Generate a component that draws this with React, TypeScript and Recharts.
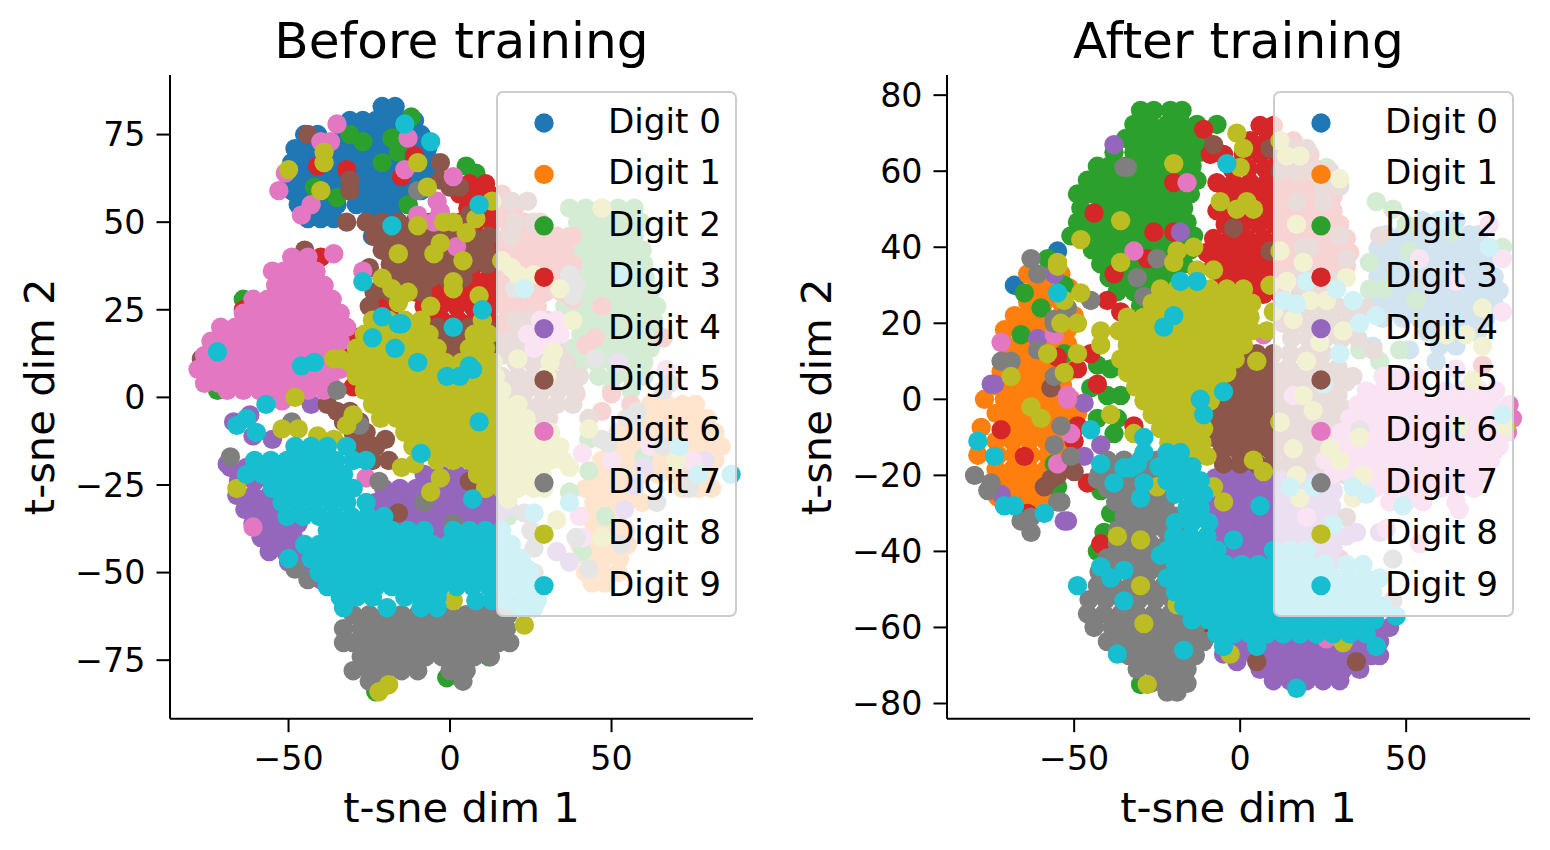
import { ScatterChart, Scatter, XAxis, YAxis } from "recharts";

const digits = ["Digit 0", "Digit 1", "Digit 2", "Digit 3", "Digit 4", "Digit 5", "Digit 6", "Digit 7", "Digit 8", "Digit 9"];
const colors = ["#1f77b4", "#ff7f0e", "#2ca02c", "#d62728", "#9467bd", "#8c564b", "#e377c2", "#7f7f7f", "#bcbd22", "#17becf"];

const beforeXTicks = [-50, 0, 50];
const beforeYTicks = [-75, -50, -25, 0, 25, 50, 75];
const afterXTicks = [-50, 0, 50];
const afterYTicks = [-80, -60, -40, -20, 0, 20, 40, 60, 80];

// every row is [y, x, x, x...]
const before0 = [
  [83,-21,-17],[79,-31,-27,-23,-19,-15,-11],[75,-45,-41,-33,-29,-25,-21,-17,-13,-9],[71,-48,-44,-40,-36,-31,-27,-23,-19,-15,-11,-7],
  [67,-49,-45,-41,-37,-33,-29,-25,-21,-17,-13,-9,-5],[63,-50,-46,-42,-38,-34,-30,-26,-22,-18,-14,-10,-6],[59,-49,-45,-41,-37,-33,-29,-25,-21,-17,-13,-9],
  [55,-47,-43,-39,-35,-29,-25,-21,-17,-13],[51,-44,-40,-36,-25,-21,-17],[46,-24],
];
const before1 = [
  [-2,62,67,72,76],[-6,54.5,59.5,64.5,69.5,74.5,79.5],[-10,52,57,62,67,72,77,82],[-14,49.5,54.5,59.5,64.5,69.5,74.5,79.5,84],[-18,47,52,57,62,67,72,77,82],
  [-22,44.5,49.5,54.5,59.5,64.5,69.5,74.5,79.5],[-26,42,47,52,57,72,77,81],[-30,44.5,49.5,54.5,59.5],[-34,42,47,52],[-38,44.5,49.5,54.5],[-42,40,45,50,55],[-46,42.5,47.5,52.5],[-50,42,47,52],[-53,44,48],
];
const before2 = [
  [54,37,42,47,52,57],[50,39.5,44.5,49.5,54.5,59],[46,37,42,47,52,57],[42,39.5,44.5,49.5,54.5,59.5],[38,38,43,48,53,58,60],[34,40.5,45.5,50.5,55.5,60.5],[30,38,43,48,53,58,62],
  [26,35.5,40.5,45.5,50.5,55.5,60.5,64],[22,38,43,48,53,58,63],[18,40.5,45.5,50.5,55.5,60.5,64],[14,38,43,48,53,58,62],[10,40.5,45.5,50.5,55.5,60],[6,46,51,56,60],[2,50,56],
  [80,-12],[75,-31],[73,-27],[74,-18],[67,-21],[70,-16],[60,-42],[57,-35],[55,-13],[66,5],[64,8],[28,-64],[2,-72],[-80,-1],[-74,12],[-84,-23],
  [-12,43],[-17,60],[-25,23],[-21,43],[-34,48],[-44,41],[-27,37],[-34,18],
];
const before3 = [
  [61,6,11],[58,3,8,12,16],[54,5.5,10.5,15.5,20],[50,3,8,13,18,23,28],[46,8,13,18,23,28,33,38],[42,10.5,15.5,20.5,25.5,30.5,35.5],[38,3,8,13,18,23,28,33,38],
  [34,-8,-3,2,7,12,17,22,27,32,37],[30,-10.5,-5.5,-0.5,4.5,9.5,14.5,19.5,24.5,29.5,34.5],[26,-22,-18,-8,-3,2,7,12,17,22,27],[22,-7.5,-2.5,2.5,7.5,12.5,17.5,22.5],[18,5,10,15,20],
  [65,-32],[66,-41],[69,-11],[63,-15],[40,-40],[17,-29],[13,-30],[3,-30],[25,-64],
  [26,47],[28,38],[15,42],[17,45],[17,66],[10,36],[1,50],[1,39],[-2,56],[-4,47],
];
const before4 = [
  [-7,-67],[-5,-62],[-11,-61],[-12,-55],[-2,-43],[4,-39],[4,-45],[-19,-69],[-20,-68,-63,-58],[-24,-65.5,-60.5,-55.5],[-28,-66,-61,-56,-52],[-32,-63.5,-58.5,-53.5],
  [-36,-61,-56,-51,-47],[-40,-58.5,-53.5,-48.5],[-44,-56,-51,-46,-41],[-47,-50,-45],[-52,-40],
  [-22,-8,-3,2,7,12],[-26,-20.5,-15.5,-10.5,-5.5,-0.5,4.5,9.5,14.5],[-30,-23,-18,-13,-8,-3,2,7,12,15],[-34,-25.5,-20.5,-15.5,-10.5,-5.5,-0.5,4.5,9.5,14.5],[-38,-23,-18,-13,-8,-3,2,7,12],
  [-18,79],[10,52],[-44,33],[-47,37],[-31,18],[-32,54],[-25,57],[-15,70],[-20,60],
];
const before5 = [
  [50,-26,-21,-16,-11,-6],[46,-23.5,-18.5,-13.5,-8.5,-3.5,1.5,6.5],[42,-21,-16,-11,-6,-1,4,9],[38,-18.5,-13.5,-8.5,-3.5,1.5,6.5,11.5],[34,-21,-16,-11,-6,-1,4],[30,-23.5,-18.5,-13.5,-8.5],
  [67,-3],[60,0],[60,3],[62,-3],[50,-32],[62,-31],[59,-31],[75,-44],[42,-45],[37,-25],[26,-25],[46,12],[42,11],[52,6],
  [20,-4,1,6,11],[16,-1.5,3.5,8.5,13.5,18],[12,-4,1,6,11,16],
  [-2,-38],[-4,-35,-31],[-7,-33,-28],[-10,-30,-26],[-14,-27,-23],[-18,-24,-19],[-12,-20],[-33,-16],[-24,6],[11,-77],
  [56,19,24],[50,20,26],[46,19],[22,20,25,30],[18,22,27,32],[14,18,23,28,33],[10,20.5,25.5,30.5,35.5],[6,16,21,26,31,36,40],[2,18.5,23.5,28.5,33.5,38.5],[-2,18,23,28,33,38],[-6,20.5,25.5,30.5,43],[-10,20,26,31],
];
const before6 = [
  [40,-49,-44],[36,-55,-51.5,-46.5,-41.5],[32,-54,-49,-44,-39],[28,-61,-56.5,-51.5,-46.5,-41.5,-36.5],[24,-64,-59,-54,-49,-44,-39,-34],[20,-71,-66.5,-61.5,-56.5,-51.5,-46.5,-41.5,-36.5,-32],
  [16,-74,-69,-64,-59,-54,-49,-44,-39,-34],[12,-76,-71.5,-66.5,-61.5,-56.5,-51.5,-46.5,-41.5,-36.5],[8,-78,-74,-69,-64,-59,-54,-49,-44,-39,-36],[4,-76,-71.5,-66.5,-61.5,-56.5,-51.5,-46.5,-41.5,-37],[2,-69,-64,-59,-54,-49,-44,-39],
  [78,-35],[73,-40],[73,-37],[64,-51],[59,-53],[55,-43],[52,-46],[74,-13],[65,-14],[63,1],[56,-4],[53,-3],[52,-10],[50,-5],[43,2],[41,-36],[36,-27],[8,-34],[-1,-52],[-37,-61],[-23,-26],
  [22,28,33],[18,24,28,34],[14,26,31],[8,67],[-16,41],[-18,50],[-18,75],[-14,62],[-34,40],[-40,41],
];
const before7 = [
  [-62,-30,-25,-20,-15,-10,-5,0,5,10,15,18],[-66,-33,-27.5,-22.5,-17.5,-12.5,-7.5,-2.5,2.5,7.5,12.5,17.5],[-70,-33,-30,-25,-20,-15,-10,-5,0,5,10,15,18.5],[-74,-27.5,-22.5,-17.5,-12.5,-7.5,-2.5,2.5,7.5,12.5],
  [-78,-30,-25,-20,-15,-10,0,5],[-81,-25,-20,4],
  [-49,-48],[-52,-44],[-17,-68],[-24,-22],[-30,-8],[-36,1],[2,-35],[-7,-49],[-8,-28],[59,-10],[-15,-39],
  [35,37],[32,39],[29,38],[31,20],[-4,58],[-40,39],[-33,23],[-38,25],[-43,26],[-50,26],[-49,43],[-42,53],[-30,64],[-26,74],[-13,49],[-12,47],[-6,55],[4,68],[2,66],[-14,66],[-23,75],[11,45],
];
const before8 = [
  [22,-24,-19,-14,-9,10],[18,-26.5,-21.5,-16.5,-11.5,-6.5,7.5],[14,-29,-24,-19,-14,-9,-4,6,11],[10,-31,-26.5,-21.5,-16.5,-11.5,-6.5,-1.5,3.5,8.5,13.5],[6,-29,-24,-19,-14,-9,-4,1,6,11,14],
  [2,-26.5,-21.5,-16.5,-11.5,-6.5,-1.5,3.5,8.5,13.5,16],[-2,-24,-19,-14,-9,-4,1,6,11,16,21],[-6,-21.5,-16.5,-11.5,-6.5,-1.5,3.5,8.5,13.5,18.5,23.5],[-10,-14,-9,-4,1,6,11,16,21,26,31],[-14,-11.5,-6.5,-1.5,3.5,8.5,13.5,18.5,23.5,28.5,33.5],
  [-18,-4,1,6,11,16,21,26,31,35],[-22,8.5,13.5,18.5,23.5,28.5],[-26,11,16,21,26],
  [70,-39],[67,-39],[65,-50],[59,-40],[67,-10],[60,-7],[49,-10],[50,1],[50,-2],[51,8],[47,5],[44,-3],[41,-5],[39,4],[41,-16],[33,1],[31,1],[29,9],[26,-6],[34,-21],[31,-18],[30,-13],[27,-16],[56,13],[18,12],[11,-36],[11,-34],
  [-26,-66],[-9,-52],[-9,-47],[0,-48],[-11,-41],[-12,-36],[-8,-32],[-5,-30],[-27,-6],[-23,-3],[-20,-15],[-19,-11],[-58,1],[-84,-22],[-82,-19],[-65,23],
  [54,47],[39,16],[37,19],[35,21],[35,26],[31,34],[22,38],[13,32],[10,31],[6,30],[11,21],[-9,43],[-14,34],[-20,37],[-24,28],[-26,29],[-29,18],[-35,33],[-40,47],[-18,70],[-22,77],
];
const before9 = [
  [-8,-66],[-6,-63],[-10,-60],[-2,-57],[-14,-48,-43,-38,-32],[-18,-60.5,-55.5,-50.5,-45.5,-40.5,-35.5,-30,-26],[-22,-63,-58,-53,-48,-43,-38,-33],[-26,-55,-50,-45,-40,-35,-30],[-30,-52,-47,-42,-37,-32,-26],
  [-34,-50.5,-45.5,-40.5,-35.5,-30.5,-25.5,-20.5],[-38,-38,-33,-28,-23,-18,-13,-8,1,6,11,16],[-42,-45,-40.5,-35.5,-30.5,-25.5,-20.5,-15.5,-10.5,-5.5,-0.5,4.5,9.5,14.5,19],[-46,-50,-43,-38,-33,-28,-23,-18,-13,-8,-3,2,7,12,17,22],
  [-50,-40.5,-35.5,-30.5,-25.5,-20.5,-15.5,-10.5,-5.5,-0.5,4.5,9.5,14.5,19.5,24.5],[-54,-38,-33,-28,-23,-18,-13,-8,-3,2,7,12,17,22,27],[-57,-34,-29,-24,-14,-9,-4],[-58,8,13,18,23,27],[-60,-33,-19.5,-9,-4,22,26],
  [13,-72],[78,-14],[73,-6],[49,-18],[55,9],[33,-27],[23,-21],[17,-24],[21,-15],[21,-16],[14,-17],[10,-10],[20,1],[25,10],[9,-46],[10,-42],[6,-1],[6,3],[9,6],[8,7],[-7,9],[-16,-9],[-29,7],
  [31,23],[35,54],[-14,71],[-22,87],[-22,77],[-30,37],[-33,26],[-49,24],
];

const after0 = [
  [47,55,60,65],[43.3,44,49,54,59,64,69,72],[39.6,41.5,46.5,51.5,56.5,61.5,66.5,71.5,75],[36,39,44,49,54,59,64,69,74],[32.3,41.5,46.5,51.5,56.5,61.5,66.5,71.5,76.5],[28.6,39,44,49,54,59,64,69,74,78],
  [25,41.5,46.5,51.5,56.5,61.5,66.5,71.5,76.5],[21.3,43,49,54,59,64,69,74],[17.6,56.5,61.5,66.5,71.5],[14,40,60,65],[13,51],[10,59],[-24,28],[30,-68],[39,-55],
];
const after1 = [
  [33,-64,-59,-54],[29.3,-61.5,-56.5,-51.5],[25.6,-64,-59,-54],[22,-68,-64,-59,-54,-50],[18.3,-71,-66.5,-61.5,-56.5,-52],[14.6,-71,-66,-61,-56,-52],[11,-68.5,-63.5,-58.5,-53.5],[7.3,-72,-66,-61,-56,-52],
  [3.6,-73.5,-68.5,-63.5,-58.5,-53.5],[0,-77,-71,-66,-61,-56,-51],[-3.7,-73.5,-68.5,-63.5,-58.5,-53.5,-49],[-7.4,-78,-71,-66,-61,-56,-51],[-11,-73.5,-68.5,-63.5,-58.5,-53.5],[-14.7,-79,-73,-68,-63,-58,-53],[-18.4,-73.5,-68.5,-63.5,-58.5],[-22,-75,-71,-66,-61,-57],[-25.7,-73,-68.5,-63.5,-58.5],[-29.4,-66,-61],
];
const after2 = [
  [76,-30,-26,-21,-17.5],[72.3,-32,-27,-22,-17.5,-13,-7],[68.6,-34.5,-29.5,-24.5,-19.5,-14.5,-11],[65,-38,-32,-27,-22,-17,-12],[61.3,-43,-39.5,-34.5,-29.5,-24.5,-19.5,-14.5],[57.6,-46,-42,-37,-32,-27,-22,-17,-13],
  [54,-49,-44.5,-39.5,-34.5,-29.5,-24.5,-19.5,-15],[50.3,-48,-42,-37,-32,-27,-22,-17],[46.6,-49,-44.5,-39.5,-34.5,-29.5,-24.5,-19.5,-16],[43,-51,-47,-42,-37,-32,-27,-22,-17,-14],[39.3,-44.5,-39.5,-34.5,-29.5,-24.5,-19.5,-15],[35.6,-42,-37,-32,-27,-22,-17],[32,-39.5,-34.5,-29.5,-24.5,-19.5],[28.3,-37,-32,-27,-22],[24.6,-30,-25],
  [12,-53],[9,-43],[8,-39],[3,-45],[1,-40,-36],[-9,-38],[-5,-43,-37],[-17,-56],[-23,-55],[-24,-42],[-30,-39],[-35,-41],[-40,-43],[-75,-30],[28,-65],[24,-60],[17,-66],[37,-58],[30,-53],
  [52,41],[50,46],[61,26],[46,50],[39,51],[36,39],[29,39,43],[26,53],[13,48],[10,42],[13,36],[5,45],[44,64],[40,79],[-1,26],
];
const after3 = [
  [72,6,10],[68,3,8,12,16],[64.4,-9,-5,1,6,11,16,21],[60.7,-2.5,2.5,7.5,12.5,17.5,22.5],[57,-7,-2,3,8,13,18,23],[53.3,-4.5,0.5,5.5,10.5,15.5,20.5,25.5,28],[49.6,-7,-2,3,8,13,18,23,28],[46,-4.5,0.5,5.5,10.5,15.5,20.5,25.5,30],
  [42.3,-8,-3,2,7,12,17,22,27,32],[38.6,-10,-5.5,-0.5,4.5,9.5,14.5,19.5,24.5,29.5,33],[35,-8,-3,2,7,12,17,22,27,32],[31.3,-5.5,-0.5,4.5,9.5,14.5,19.5,24.5,29],[27.6,-3,2,7,12],
  [71,-11],[57,-20],[49,-44],[44,-26,-20],[33,-38],[37,-28],[26,-40],[23,-36],[11,-55],[12,-45],[8,-49],[4,-43],[-8,-72],[-15,-65],[-7,-49],[-11,-50],[-7,-32],[-22,-46],[-30,-64],[-59,-11],[-38,-42],
  [-14,76],[9,73],[-17,15],[-42,30],
];
const after4 = [
  [-17,-5,0,5,10,15,20,25],[-20.7,-7.5,-2.5,2.5,7.5,12.5,17.5,22.5,27.5],[-24.4,-5,0,5,10,15,20,25,28],[-28,-7.5,-2.5,2.5,7.5,12.5,17.5,22.5,27.5],[-31.7,-5,0,5,10,15,20,25,28],[-35.4,-7.5,-2.5,2.5,7.5,12.5,17.5,22.5,27.5],[-39,-5,0,5,10,15,20,25,28],[-42.7,-2.5,2.5,7.5,12.5,17.5,22.5,27.5],
  [-60,25,30,35,40,45],[-63.7,-3,2,7,12,17,22,27,32,37,42],[-67.4,-0.5,4.5,9.5,14.5,19.5,24.5,29.5,34.5,39.5,42],[-71,6,11,16,21,26,31,36],[-74,10,15,20,25,30],[-67,-5],[-69,-1],
  [67,-38],[44,-18],[33,-56],[16,-61],[4,-75,-74],[-1,-47],[-12,-42],[-15,-47],[-25,-72],[-32,-53,-52],[-26,55],[-35,35,42],[-36,32],[-32,26],
];
const after5 = [
  [12,-3,1,5,10,15,20,25,30],[8.3,-5.5,-0.5,4.5,9.5,14.5,19.5,24.5,29.5],[4.6,-8,-3,2,7,12,17,22,27,32],[1,-10.5,-5.5,-0.5,4.5,9.5,14.5,19.5,24.5,29.5],[-2.7,-13,-8,-3,2,7,12,17,22,27,32],[-6.4,-10.5,-5.5,-0.5,4.5,9.5,14.5,19.5,24.5,29.5],[-10,-8,-3,2,7,12,17,22,27],[-13.7,-5.5,-0.5,4.5,9.5,14.5,19.5,24.5],[-17,-5,0,5,10,15,20,25],
  [66,10,15,20],[60,12,17,22,27],[56,25,30],[52,17,25],[40,19,21],[43,30],[37,32],[32,16,21,26,31],[28,18,23,28],[24,15.5,20.5,25.5,30.5,35,38],[20,13,18,23,28,33],[16,15.5,20.5,25.5,30.5,35.5],[13,40],[6,34],
  [-20,32],[-31,32],[43,42],[67,-8],[45,-2],[39,9],[66,9],[3,-57],[-19,-50],[-23,-59],[-21,-57],[-20,-55],[-69,5],[-67,-15],[-69,35],
];
const after6 = [
  [6,43,48,53],[2.3,38,43,48,53,62,67,72,77],[-1.4,35.5,40.5,45.5,50.5,55.5,60.5,65.5,70.5,75.5,81],[-5,33,38,43,48,53,58,63,68,73,78,82],[-8.7,30.5,35.5,40.5,45.5,50.5,55.5,60.5,65.5,70.5,75.5,80.5],[-12.4,28,33,38,43,48,53,58,63,68,73,78],
  [-16,25.5,30.5,35.5,40.5,45.5,50.5,55.5,60.5,65.5,70.5,75.5],[-19.7,28,33,38,43,48,53,58,63,68,73],[-23.4,35.5,40.5,45.5,50.5,55.5,60.5,65.5,70.5],[-27,45,50,55,65],[-29,66],
  [-38,54],[-34,44],[-31,20],[1,16],[23,79],[46,75],[37,79],[37,54],[31,65],[8,65],
  [39,-32],[57,-16],[15,-72],[17,-56],[1,-52],[0,-52],[-9,-51],[-17,-55],[-63,26],[17,7],
];
const after7 = [
  [-16,-40,-35,-30,-25,-20,-15],[-19.7,-42.5,-37.5,-32.5,-27.5,-22.5,-17.5],[-23.4,-40,-35,-30,-25,-20],[-27,-37.5,-32.5,-27.5,-22.5],[-30.7,-35,-30,-25,-20,-15],[-34.4,-37,-32.5,-27.5,-22.5,-17.5],[-38,-37,-32,-27,-22,-17],
  [-41.7,-40,-35,-30,-25,-20],[-45.4,-42.5,-37.5,-32.5,-27.5,-22.5,-17.5],[-49,-43,-38,-33,-28,-23,-18],[-52.7,-45.5,-40.5,-35.5,-30.5,-25.5,-20.5,-15.5],[-56.4,-46,-41,-36,-31,-26,-21,-16],[-60,-44,-38.5,-33.5,-28.5,-23.5,-18.5,-13.5],
  [-63.7,-40,-36,-31,-26,-21,-16,-11],[-67.4,-33.5,-28.5,-23.5,-18.5,-13.5],[-71,-31,-26,-21,-16],[-74.7,-27,-23,-18,-16],[-77,-22,-19],
  [-20,-80],[-22,-75],[-24,-76],[-32,-66],[-35,-63],[-31,-63],[-27,-55,-54],[-7,-54],[-12,-56],[-15,-51],[-21,-43],
  [37,-63],[33,-61],[10,-72,-69],[13,-61],[21,-56],[20,-56],[24,-52],[26,-45],[61,-35,-34],[37,-25],[32,-31],[27,-29],[6,-56],[-42,46],[-53,46],[-55,45],[-8,36],
];
const after8 = [
  [29,-24,-19,-14,-9,-4,1],[25.3,-26.5,-21.5,-16.5,-11.5,-6.5,-1.5,3.5],[21.6,-34,-29,-24,-19,-14,-9,-4,1,3],[18,-42,-36.5,-31.5,-26.5,-21.5,-16.5,-11.5,-6.5,-1.5,3.5],[14.3,-42,-34,-29,-24,-19,-14,-9,-4,1],[10.6,-36,-31.5,-26.5,-21.5,-16.5,-11.5,-6.5,-1.5],
  [7,-34,-29,-24,-19,-14,-9,-4],[3.3,-31.5,-26.5,-21.5,-16.5,-11.5,-6.5],[-0.4,-29,-24,-19,-14,-9],[-4,-26.5,-21.5,-16.5,-12],[-7.7,-24,-19,-14,-11],[-11.4,-21.5,-16.5,-11.5],[-15,-19,-14,-10],
  [62,-20],[47,-36],[42,-48],[36,-36],[36,-55],[35,-55],[28,-48],[26,-53],[20,-54,-49],[12,-58,-49],[6,-69],[7,-53],[70,-1],[66,1],[61,0],[52,-6,2],[50,-1,4],[40,-14],[39,-19],[36,-20],[34,-13,-8],[10,5],[18,8],[23,10],[30,9],
  [-2,-63],[-5,-60],[-4,-39],[-9,-32],[-16,4],[-19,7],[-23,-8],[-27,-5],[-23,-25],[-36,-37],[-37,-30],[-49,-30],[-54,-19],[-59,-29],[-75,-28],[-6,12],[-67,-3],[-64,31],
  [68,12],[64,14,18],[58,30],[46,17],[39,12],[36,19],[31,14],[32,32],[26,21,26],[21,16],[15,24],[10,20],[18,31],[1,19],[-3,22],[-6,12],[-13,16,27],[-16,30],[-20,17,37],[-10,36],[-26,18,34],[24,73],[17,62,68],[14,73],[5,70],[-7,66,80],
];
const after9 = [
  [-14,-22,-18],[-17.7,-24.5,-19.5,-14.5],[-21.4,-22,-17,-12],[-25,-19.5,-14.5,-11],[-28.7,-16,-12],[-32.4,-19.5,-14.5,-9.5],[-36,-20,-15,-10],[-39.7,-22,-17,-12,-7,10,15,20],
  [-43.4,-19.5,-14.5,-9.5,-4.5,0.5,5.5,10.5,15.5,20.5,25.5,32,37],[-47,-22,-17,-12,-7,-2,3,8,13,18,23,28,33,38,42],[-50.7,-19.5,-14.5,-9.5,-4.5,0.5,5.5,10.5,15.5,20.5,25.5,30.5,35.5,40],[-54.4,-17,-12,-7,-2,3,8,13,18,23,28,33,38,43],[-58,-14.5,-9.5,-4.5,0.5,5.5,10.5,15.5,20.5,25.5,30.5,35.5,40.5],[-61.7,-7,-2,3,8,13,18,23,28,33,38],[-65,-5,5,41],[-57,47],[-76,17],
  [-17,-42],[-22,-38],[-18,-33,-35],[-17,-31],[-14,-29],[-10,-29],[-22,-29],[-26,-30],[-8,-45],[-11,-79],[-15,-74],[-28,-71,-68],[-30,-59],[-49,-49],[-44,-42],[-47,-39],[-45,-35],[-53,-35],[-41,-24],[-67,-37],[-66,-17],[-55,-13],[0,-12],[-4,-11],[2,-5],[-28,6],[-37,-2],
  [28,-55],[62,-4],[31,-18,-13],[19,-23],[22,-20],
  [-23,15,22],[-23,34],[-25,38],[-28,49],[12,30],[20,36],[22,41],[26,34],[29,29],[31,20],[25,17],[26,13],[40,75],[47,60],[-4,79],[4,25],[-33,28],
];

const unpack = (rows: number[][]) => rows.flatMap(([y, ...xs]) => xs.map((x) => ({ x, y })));
const beforeSeries = [before0, before1, before2, before3, before4, before5, before6, before7, before8, before9];
const afterSeries = [after0, after1, after2, after3, after4, after5, after6, after7, after8, after9];

const font = "DejaVu Sans";
const minus = (v: number) => String(v).replace("-", "\u2212");

function Panel({ title, left, series, xDomain, yDomain, xTicks, yTicks }: any) {
  return (
    <div style={{ position: "absolute", left, top: 0 }}>
      <ScatterChart width={775} height={850} margin={{ top: 75, right: 22, bottom: 0, left: 0 }}>
        <text x={461.5} y={58} textAnchor="middle" fontFamily={font} fontSize={50.2} fill="#000">{title}</text>
        <XAxis
          type="number" dataKey="x" domain={xDomain} ticks={xTicks} height={131.3} allowDataOverflow
          tickFormatter={minus} tick={{ fontSize: 33.3, fontFamily: font, fill: "#000" }}
          tickSize={13.5} tickMargin={14}
          axisLine={{ stroke: "#000", strokeWidth: 2 }} tickLine={{ stroke: "#000", strokeWidth: 2 }}
          label={{ value: "t-sne dim 1", position: "insideBottom", offset: 28, fontSize: 41.67, fontFamily: font, fill: "#000" }}
        />
        <YAxis
          type="number" dataKey="y" domain={yDomain} ticks={yTicks} width={170} allowDataOverflow
          tickFormatter={minus} tick={{ fontSize: 33.3, fontFamily: font, fill: "#000" }}
          tickSize={13.5} tickMargin={11}
          axisLine={{ stroke: "#000", strokeWidth: 2 }} tickLine={{ stroke: "#000", strokeWidth: 2 }}
          label={{ value: "t-sne dim 2", angle: -90, position: "insideLeft", offset: 39, textAnchor: "middle", fontSize: 41.67, fontFamily: font, fill: "#000" }}
        />
        {series.map((rows: number[][], i: number) => (
          <Scatter
            key={digits[i]} name={digits[i]} data={unpack(rows)} fill={colors[i]} isAnimationActive={false}
            shape={(p: any) => <circle cx={p.cx} cy={p.cy} r={9.7} fill={colors[i]} />}
          />
        ))}
      </ScatterChart>
      <svg width={775} height={850} style={{ position: "absolute", left: 0, top: 0, pointerEvents: "none" }}>
        <rect x={497} y={92} width={239} height={524} rx={6} fill="rgba(255,255,255,0.8)" stroke="#ccc" strokeWidth={2} />
        {digits.map((d, i) => (
          <g key={d}>
            <circle cx={544} cy={123 + i * 51.4} r={9.7} fill={colors[i]} />
            <text x={608} y={133 + i * 51.4} fontFamily={font} fontSize={34.2} fill="#000">{d}</text>
          </g>
        ))}
      </svg>
    </div>
  );
}

export default function App() {
  return (
    <div style={{ position: "absolute", left: 0, top: 0, width: 1550, height: 850, background: "#fff", overflow: "hidden" }}>
      <Panel title="Before training" left={0} series={beforeSeries} xDomain={[-86.7, 93.8]} yDomain={[-91.7, 92]} xTicks={beforeXTicks} yTicks={beforeYTicks} />
      <Panel title="After training" left={777} series={afterSeries} xDomain={[-88.3, 87.3]} yDomain={[-84, 85.3]} xTicks={afterXTicks} yTicks={afterYTicks} />
    </div>
  );
}
